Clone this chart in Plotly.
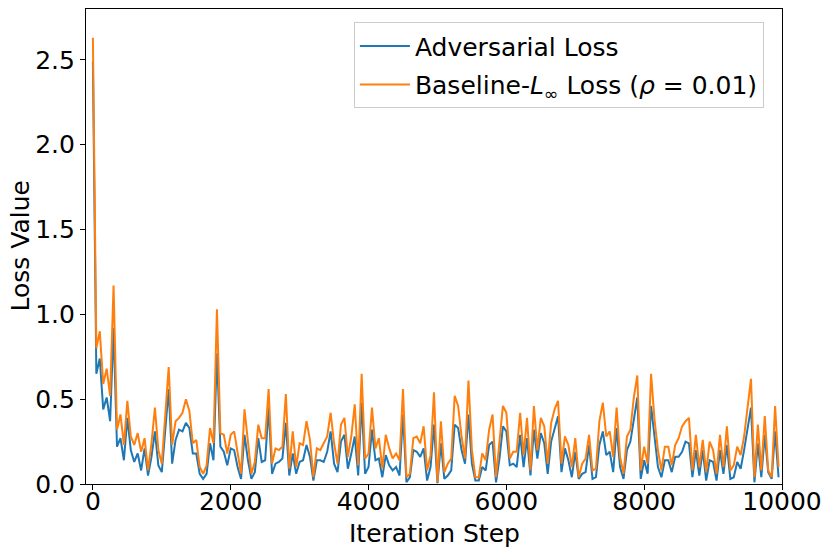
import plotly.graph_objects as go

steps = list(range(0, 10000, 50))

adversarial_loss = [
    2.49, 0.65, 0.74, 0.44, 0.51, 0.37, 0.92, 0.22, 0.27, 0.14,
    0.39, 0.20, 0.13, 0.18, 0.08, 0.21, 0.05, 0.16, 0.31, 0.11,
    0.07, 0.30, 0.56, 0.12, 0.26, 0.32, 0.31, 0.36, 0.33, 0.18,
    0.18, 0.06, 0.03, 0.06, 0.24, 0.14, 0.77, 0.22, 0.19, 0.11,
    0.21, 0.20, 0.10, 0.03, 0.29, 0.14, 0.03, 0.07, 0.27, 0.13,
    0.14, 0.45, 0.06, 0.12, 0.13, 0.15, 0.36, 0.05, 0.18, 0.06,
    0.13, 0.14, 0.23, 0.16, 0.02, 0.14, 0.14, 0.13, 0.19, 0.31,
    0.12, 0.07, 0.25, 0.29, 0.09, 0.18, 0.28, 0.05, 0.48, 0.06,
    0.10, 0.32, 0.14, 0.15, 0.04, 0.17, 0.11, 0.08, 0.10, 0.05,
    0.41, 0.01, 0.04, 0.20, 0.19, 0.16, 0.21, 0.02, 0.10, 0.35,
    0.005, 0.24, 0.03, 0.05, 0.08, 0.35, 0.33, 0.20, 0.12, 0.41,
    0.12, 0.02, 0.02, 0.10, 0.08, 0.23, 0.25, 0.01, 0.15, 0.34,
    0.31, 0.11, 0.12, 0.10, 0.29, 0.10, 0.27, 0.05, 0.32, 0.15,
    0.30, 0.24, 0.06, 0.25, 0.33, 0.40, 0.07, 0.21, 0.14, 0.04,
    0.19, 0.03, 0.06, 0.07, 0.23, 0.03, 0.04, 0.23, 0.31, 0.17,
    0.19, 0.07, 0.33, 0.10, 0.03, 0.20, 0.25, 0.39, 0.51, 0.03,
    0.14, 0.06, 0.46, 0.28, 0.10, 0.04, 0.14, 0.14, 0.07, 0.16,
    0.16, 0.19, 0.25, 0.24, 0.04, 0.20, 0.05, 0.20, 0.02, 0.14,
    0.13, 0.02, 0.20, 0.06, 0.23, 0.03, 0.04, 0.13, 0.09, 0.20,
    0.32, 0.45, 0.01, 0.24, 0.04, 0.29, 0.07, 0.03, 0.31, 0.04,
]

baseline_loss = [
    2.63, 0.80, 0.90, 0.59, 0.68, 0.52, 1.17, 0.32, 0.41, 0.23,
    0.49, 0.28, 0.23, 0.30, 0.19, 0.27, 0.08, 0.24, 0.45, 0.20,
    0.12, 0.40, 0.69, 0.23, 0.37, 0.39, 0.42, 0.50, 0.43, 0.24,
    0.26, 0.10, 0.06, 0.11, 0.33, 0.24, 1.03, 0.30, 0.29, 0.18,
    0.29, 0.31, 0.18, 0.06, 0.44, 0.26, 0.06, 0.13, 0.35, 0.27,
    0.27, 0.56, 0.12, 0.21, 0.20, 0.22, 0.53, 0.09, 0.31, 0.10,
    0.24, 0.23, 0.37, 0.26, 0.04, 0.21, 0.20, 0.24, 0.28, 0.42,
    0.24, 0.12, 0.35, 0.39, 0.16, 0.28, 0.47, 0.11, 0.65, 0.15,
    0.18, 0.45, 0.21, 0.27, 0.09, 0.29, 0.21, 0.15, 0.18, 0.14,
    0.56, 0.04, 0.06, 0.27, 0.28, 0.24, 0.34, 0.08, 0.17, 0.54,
    0.01, 0.37, 0.07, 0.12, 0.15, 0.52, 0.46, 0.28, 0.15, 0.61,
    0.20, 0.04, 0.04, 0.18, 0.14, 0.32, 0.41, 0.04, 0.23, 0.46,
    0.42, 0.15, 0.19, 0.19, 0.42, 0.17, 0.39, 0.08, 0.46, 0.20,
    0.39, 0.34, 0.12, 0.36, 0.44, 0.49, 0.12, 0.28, 0.23, 0.10,
    0.27, 0.04, 0.12, 0.15, 0.29, 0.08, 0.09, 0.37, 0.48, 0.28,
    0.31, 0.16, 0.45, 0.16, 0.06, 0.28, 0.32, 0.51, 0.64, 0.08,
    0.22, 0.12, 0.65, 0.38, 0.20, 0.08, 0.22, 0.22, 0.11, 0.23,
    0.27, 0.34, 0.37, 0.39, 0.08, 0.29, 0.10, 0.26, 0.07, 0.25,
    0.20, 0.06, 0.29, 0.10, 0.34, 0.08, 0.11, 0.22, 0.17, 0.28,
    0.45, 0.62, 0.04, 0.35, 0.08, 0.40, 0.08, 0.04, 0.46, 0.10,
]

x_ticks = [0, 2000, 4000, 6000, 8000, 10000]
y_ticks = [0.0, 0.5, 1.0, 1.5, 2.0, 2.5]

FONT = "DejaVu Sans"
FS = 25

fig = go.Figure()
fig.add_trace(go.Scatter(
    x=steps, y=adversarial_loss, mode="lines", name="Adversarial Loss",
    line=dict(color="#1f77b4", width=2), legendgroup="a",
))
fig.add_trace(go.Scatter(
    x=steps, y=baseline_loss, mode="lines",
    name="Baseline-<i>L</i><sub>∞</sub> Loss (<i>ρ</i> = 0.01)",
    line=dict(color="#ff7f0e", width=2), legendgroup="b",
))

axis_common = dict(
    showline=True, linecolor="black", linewidth=1.2, mirror=True,
    ticks="outside", ticklen=5, tickwidth=1.2, tickcolor="black",
    showgrid=False, zeroline=False, automargin=False,
    tickfont=dict(family=FONT, size=FS, color="black"),
)

fig.update_layout(
    width=831, height=555,
    margin=dict(l=86, r=49, t=9, b=71),
    paper_bgcolor="white", plot_bgcolor="white",
    font=dict(family=FONT, size=FS, color="black"),
    xaxis=dict(
        range=[-100, 10000], tickvals=x_ticks,
        ticktext=[str(v) for v in x_ticks],
        ticklabelstandoff=-10,
        **axis_common,
    ),
    yaxis=dict(
        range=[0, 2.8], tickvals=y_ticks,
        ticktext=[f"{v:.1f}" for v in y_ticks],
        **axis_common,
    ),
    legend=dict(
        x=0.974, y=0.972, xanchor="right", yanchor="top",
        bgcolor="rgba(255,255,255,0.8)", bordercolor="#cccccc", borderwidth=1,
        font=dict(family=FONT, size=FS, color="black"),
        tracegroupgap=3, itemwidth=50,
    ),
    annotations=[
        dict(text="Iteration Step", xref="paper", yref="paper", x=0.5, y=0,
             xanchor="center", yanchor="middle", yshift=-49, showarrow=False,
             font=dict(family=FONT, size=FS, color="black")),
        dict(text="Loss Value", xref="paper", yref="paper", x=0, y=0.5,
             xanchor="center", yanchor="middle", xshift=-66, textangle=-90,
             showarrow=False, font=dict(family=FONT, size=FS, color="black")),
    ],
)

fig.write_html("out.html", config={"displayModeBar": False},
               post_script="document.body.style.margin='0';")
